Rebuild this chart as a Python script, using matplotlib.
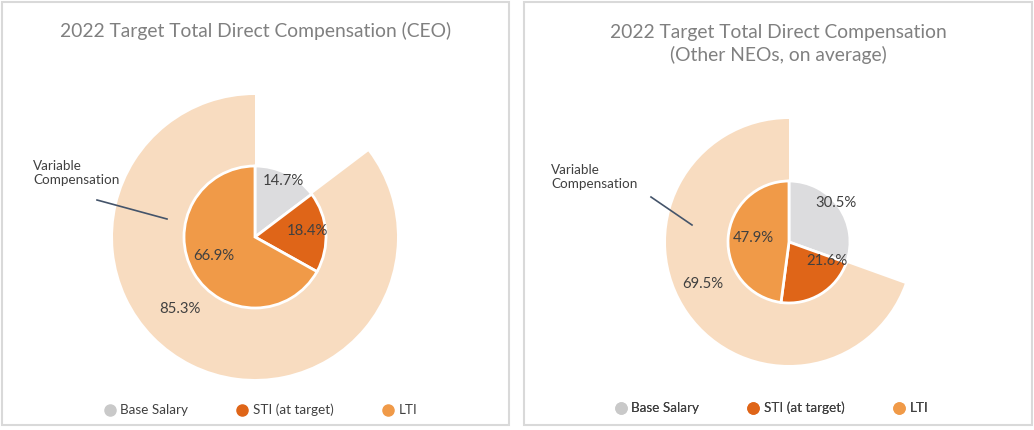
import matplotlib
matplotlib.use("Agg")
import matplotlib.pyplot as plt
from matplotlib.patches import Rectangle
from matplotlib.lines import Line2D
import numpy as np

plt.rcParams['font.family'] = ['Lato', 'DejaVu Sans']

# ---- data ----
categories = ["Base Salary", "STI (at target)", "LTI"]
ceo_values = [14.7, 18.4, 66.9]
ceo_variable = 85.3
neo_values = [30.5, 21.6, 47.9]
neo_variable = 69.5
titles = ["2022 Target Total Direct Compensation (CEO)",
          "2022 Target Total Direct Compensation\n(Other NEOs, on average)"]
ring_label = "Variable\nCompensation"

# ---- styles ----
W, H = 1034, 430
colors = ["#DCDCDE", "#DF6518", "#F09A48"]
legend_colors = ["#C9C9C9", "#DF6518", "#F09A48"]
ring_color = "#F8DCC0"
text_color = "#404040"

fig = plt.figure(figsize=(W / 100, H / 100), dpi=100)
ax = fig.add_axes([0, 0, 1, 1])
ax.set_xlim(0, W)
ax.set_ylim(0, H)
ax.set_aspect('equal')
ax.axis('off')

def Y(y):
    return H - y

panels = [
    dict(box=(2, 2, 507, 423), center=(255, 237), r_in=71, r_out=142,
         values=ceo_values, variable=ceo_variable, title=titles[0], title_y=31,
         lab_off=[(28, -56), (52, -6), (-41, 19)], var_off=(-75, 72),
         rl_xy=(33, 173), line=((97, 200), (167, 219)), leg=(260, 410)),
    dict(box=(524, 2, 508, 423), center=(789, 242), r_in=61, r_out=123,
         values=neo_values, variable=neo_variable, title=titles[1], title_y=44,
         lab_off=[(47, -39), (38, 19), (-36, -4)], var_off=(-86, 42),
         rl_xy=(551, 177), line=((651, 197), (692, 225)), leg=(771, 408)),
]

for p in panels:
    bx, by, bw, bh = p['box']
    ax.add_patch(Rectangle((bx, Y(by + bh)), bw, bh, fill=False,
                           edgecolor="#D9D9D9", linewidth=1.5))
    cx, cy = p['center']
    base = p['values'][0]
    # outer ring (variable compensation)
    ax.pie([base, p['variable']], colors=['none', ring_color], radius=p['r_out'],
           center=(cx, Y(cy)), startangle=90, counterclock=False,
           wedgeprops=dict(linewidth=0), frame=True)
    # inner pie
    ax.pie(p['values'], colors=colors, radius=p['r_in'], center=(cx, Y(cy)),
           startangle=90, counterclock=False,
           wedgeprops=dict(edgecolor='white', linewidth=2), frame=True)
    for v, (dx, dy) in zip(p['values'], p['lab_off']):
        ax.text(cx + dx, Y(cy + dy), f"{v:.1f}%", ha='center', va='center',
                fontsize=10.7, color=text_color)
    dx, dy = p['var_off']
    ax.text(cx + dx, Y(cy + dy), f"{p['variable']:.1f}%", ha='center', va='center',
            fontsize=10.7, color=text_color)
    # title
    ax.text(bx + bw / 2, Y(p['title_y']), p['title'], ha='center', va='center',
            fontsize=13.9, color="#808080", linespacing=1.3)
    # ring label + leader
    rx, ry = p['rl_xy']
    ax.text(rx, Y(ry), ring_label, ha='left', va='center', fontsize=9.7,
            color=text_color, linespacing=1.3)
    (x1, y1), (x2, y2) = p['line']
    ax.plot([x1, x2], [Y(y1), Y(y2)], color="#44546A", linewidth=1.2)
    # legend
    handles = [Line2D([], [], marker='o', linestyle='none', markersize=8,
                      markerfacecolor=c, markeredgecolor=c) for c in legend_colors]
    lx, ly = p['leg']
    leg = ax.legend(handles, categories, ncol=3, loc='center',
                    bbox_to_anchor=(lx, Y(ly)), bbox_transform=ax.transData,
                    frameon=False, fontsize=9.7, handletextpad=0.3,
                    columnspacing=3.5, handlelength=1.0, labelcolor=text_color)
    ax.add_artist(leg)

ax.set_xlim(0, W)
ax.set_ylim(0, H)
ax.axis('off')
fig.savefig("out.png", dpi=100)
